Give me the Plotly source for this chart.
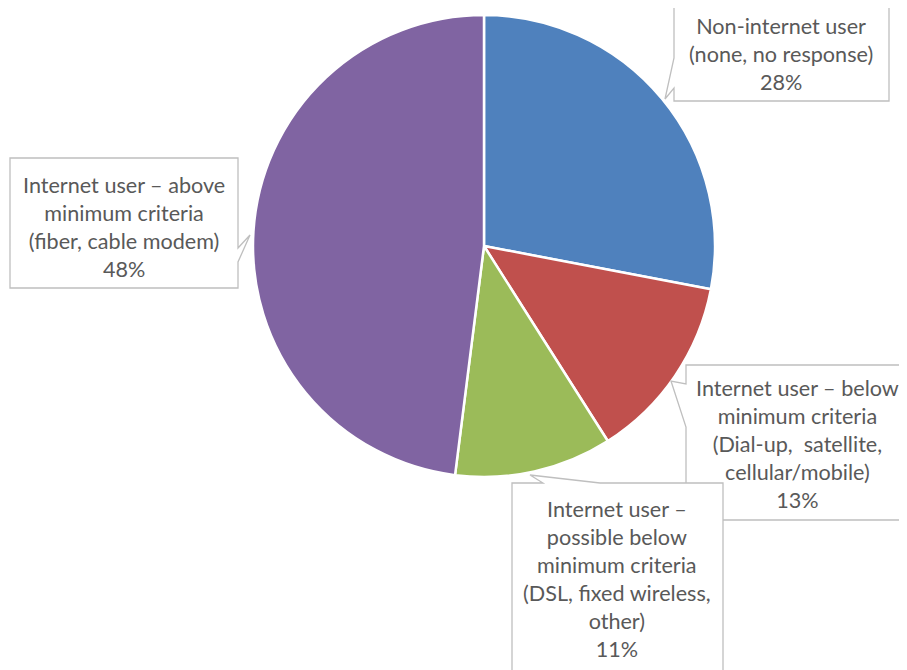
import plotly.graph_objects as go

categories = [
    "Non-internet user<br>(none, no response)",
    "Internet user – below<br>minimum criteria<br>(Dial-up,  satellite,<br>cellular/mobile)",
    "Internet user –<br>possible below<br>minimum criteria<br>(DSL, fixed wireless,<br>other)",
    "Internet user – above<br>minimum criteria<br>(fiber, cable modem)",
]
values = [28, 13, 11, 48]
colors = ["#4F81BD", "#C0504D", "#9BBB59", "#8064A2"]

OFF = 8  # page body margin
W, H = 907 - OFF, 670 - OFF
def px(x): return (x - OFF) / W
def py(y): return 1 - (y - OFF) / H

fig = go.Figure()
fig.add_trace(go.Pie(
    labels=categories, values=values, sort=False, direction="clockwise", rotation=0,
    marker=dict(colors=colors, line=dict(color="white", width=2.5)),
    textinfo="none", hoverinfo="label+percent", showlegend=False,
    domain=dict(x=[px(253), px(715)], y=[py(477), py(15)]),
))

# callout boxes in page pixel coordinates, in the same order as categories
callouts = [
    dict(box=(674, 4, 889, 101), ptr=[(674, 88), (665, 99), (674, 58)], side="left", c=(781, 54)),
    dict(box=(686, 365, 915, 520), ptr=[(686, 384), (671, 381), (686, 427)], side="left", c=(797, 444)),
    dict(box=(512, 483, 723, 675), ptr=[(543, 483), (530, 475), (600, 483)], side="top", c=(617, 579)),
    dict(box=(10, 158, 238, 288), ptr=[(238, 248), (250, 235), (238, 262)], side="right", c=(124, 227)),
]
draw_order = [0, 1, 3, 2]

def path_for(cb):
    x0, y0, x1, y1 = cb["box"]
    p = cb["ptr"]
    s = cb["side"]
    if s == "left":
        lo, hi = sorted([p[0], p[2]], key=lambda q: -q[1])
        pts = [(x0, y0), (x1, y0), (x1, y1), (x0, y1), lo, p[1], hi]
    elif s == "right":
        top, bot = sorted([p[0], p[2]], key=lambda q: q[1])
        pts = [(x0, y0), (x1, y0), top, p[1], bot, (x1, y1), (x0, y1)]
    else:
        l, r = sorted([p[0], p[2]], key=lambda q: q[0])
        pts = [(x0, y0), l, p[1], r, (x1, y0), (x1, y1), (x0, y1)]
    return "M " + " L ".join(f"{px(x):.5f},{py(y):.5f}" for x, y in pts) + " Z"

pcts = [f"{v}%" for v in values]
for i in draw_order:
    fig.add_shape(type="path", path=path_for(callouts[i]), xref="paper", yref="paper",
                  fillcolor="white", line=dict(color="#BFBFBF", width=1.3), layer="above")

for i in draw_order:
    cb = callouts[i]
    fig.add_annotation(x=px(cb["c"][0]), y=py(cb["c"][1]), xref="paper", yref="paper",
                       text=categories[i] + "<br>" + pcts[i], showarrow=False,
                       font=dict(family="Lato, Open Sans, sans-serif", size=21.6, color="#595959"),
                       align="center", xanchor="center", yanchor="middle")

fig.update_layout(width=W, height=H, margin=dict(l=0, r=0, t=0, b=0),
                  paper_bgcolor="white", plot_bgcolor="white")
fig.write_html("out.html")
